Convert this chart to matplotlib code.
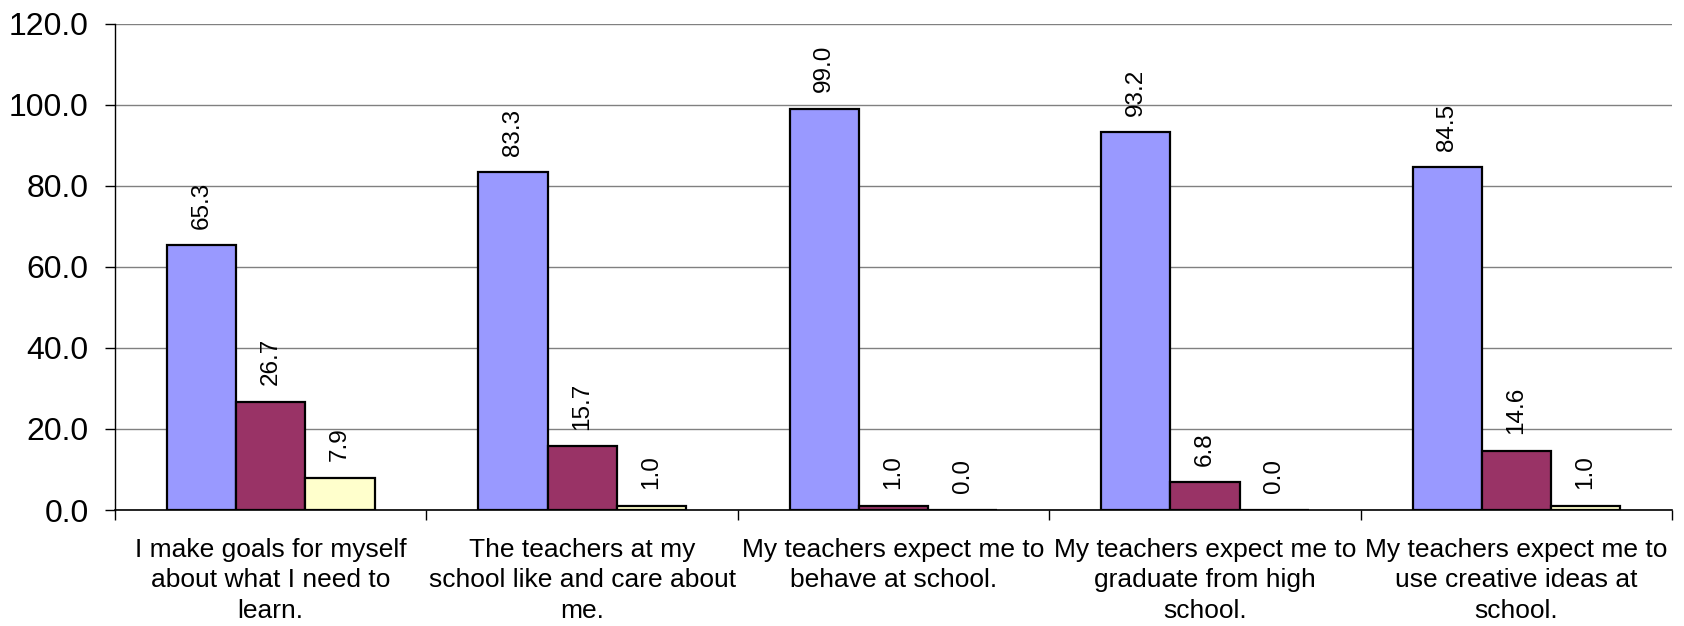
# Bar chart of student survey responses (percent)
import numpy as np
import matplotlib
matplotlib.use('Agg')
import matplotlib.pyplot as plt

plt.rcParams['font.family'] = ['Liberation Sans', 'DejaVu Sans']

categories = ['I make goals for myself\nabout what I need to\nlearn.',
              'The teachers at my\nschool like and care about\nme.',
              'My teachers expect me to\nbehave at school.',
              'My teachers expect me to\ngraduate from high\nschool.',
              'My teachers expect me to\nuse creative ideas at\nschool.']
series1 = [65.3, 83.3, 99.0, 93.2, 84.5]
series2 = [26.7, 15.7, 1.0, 6.8, 14.6]
series3 = [7.9, 1.0, 0.0, 0.0, 1.0]
colors = ['#9999FF', '#993366', '#FFFFCC']
yticks = [0, 20, 40, 60, 80, 100, 120]

fig = plt.figure(figsize=(16.84, 6.26), dpi=100)
ax = fig.add_axes([0.0683, 0.1853, 0.9246, 0.777])

x = np.arange(len(categories))
w = 2.0 / 9
for k, (vals, c) in enumerate(zip([series1, series2, series3], colors)):
  pos = x + (k - 1) * w
  ax.bar(pos, vals, w, color=c, edgecolor='black', linewidth=1.6, zorder=3)
  for px, v in zip(pos, vals):
    ax.annotate('%.1f' % v, (px, v), xytext=(0, 12), textcoords='offset points',
                rotation=90, ha='center', va='bottom', fontsize=17.5)

ax.set_xlim(-0.5, len(categories) - 0.5)
ax.set_ylim(0, 120)
ax.set_yticks(yticks)
ax.set_yticklabels(['%.1f' % t for t in yticks], fontsize=23)
ax.tick_params(axis='y', length=7, width=1, pad=12)
ax.yaxis.grid(True, color='#808080', linewidth=1, zorder=0)

ax.set_xticks(x)
ax.set_xticklabels(categories, fontsize=19, linespacing=1.35)
ax.tick_params(axis='x', which='major', length=0, pad=20)
ax.set_xticks(np.arange(-0.5, len(categories)), minor=True)
ax.tick_params(axis='x', which='minor', length=7, width=1)

for s in ['top', 'right']:
  ax.spines[s].set_visible(False)
ax.spines['left'].set_linewidth(1)
ax.spines['bottom'].set_linewidth(1.2)

plt.savefig('out.png', dpi=100)
